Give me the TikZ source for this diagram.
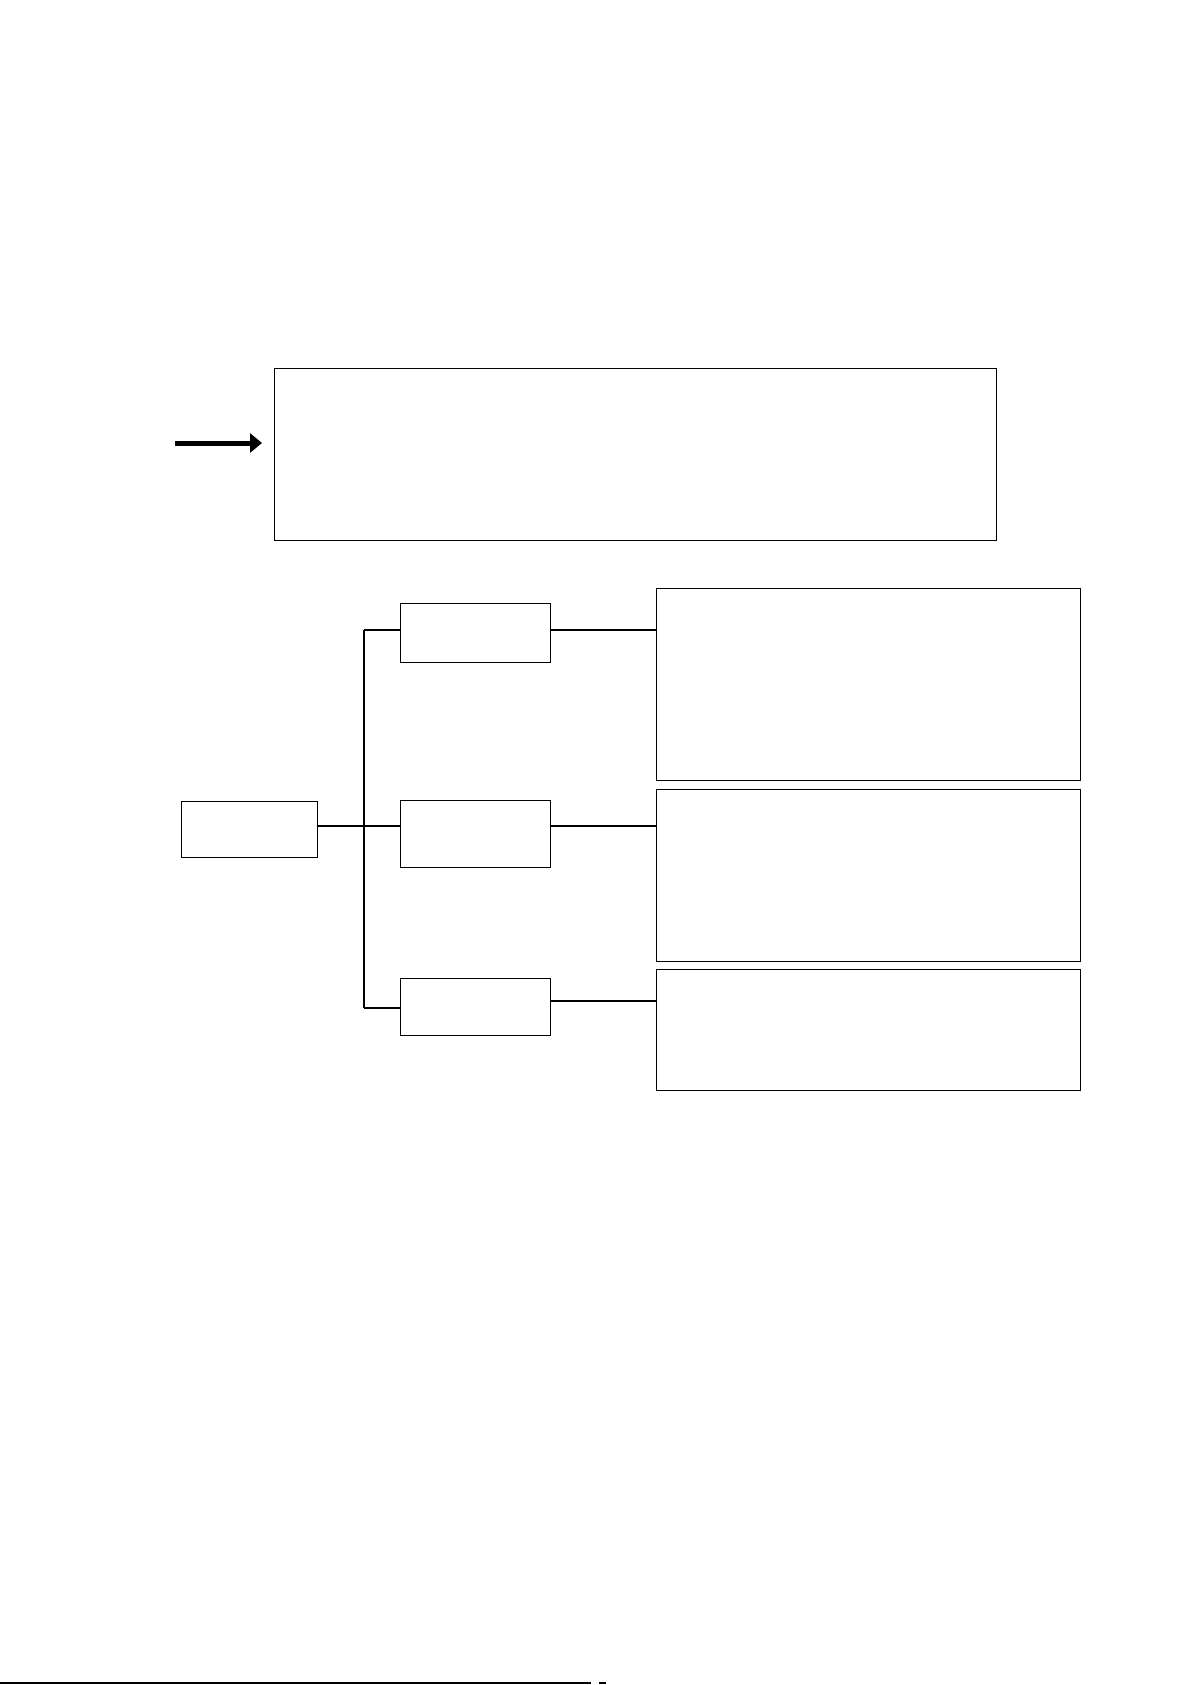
\documentclass[tikz,border=0pt]{standalone}
\usetikzlibrary{arrows.meta}
\begin{document}
\begin{tikzpicture}[x=1pt,y=-1pt,
  box/.style={draw, line width=1.4pt, inner sep=0pt, anchor=north west},
  link/.style={line width=2pt}]
\useasboundingbox (0,0) rectangle (1191,1685);
% top box and arrow
\node[box, minimum width=722pt, minimum height=172pt] (top) at (274,368) {};
\coordinate (as) at (175,443);
\coordinate (ae) at (262,443);
\draw[line width=5pt, -{Triangle[length=12pt,width=19pt]}] (as) -- (ae);
% tree
\node[box, minimum width=136pt, minimum height=56pt] (root) at (181,801) {};
\node[box, minimum width=150pt, minimum height=59pt] (m1) at (400,603) {};
\node[box, minimum width=150pt, minimum height=67pt] (m2) at (400,800) {};
\node[box, minimum width=150pt, minimum height=57pt] (m3) at (400,978) {};
\node[box, minimum width=424pt, minimum height=192pt] (r1) at (656,588) {};
\node[box, minimum width=424pt, minimum height=172pt] (r2) at (656,789) {};
\node[box, minimum width=424pt, minimum height=121pt] (r3) at (656,969) {};
\coordinate (b1) at (364,630);
\coordinate (b2) at (364,826);
\coordinate (b3) at (364,1008);
\coordinate (c3) at (550,1001);
\draw[link] (b1) -- (b3);
\draw[link] (root.east |- b2) -- (m2.west |- b2);
\draw[link] (b1) -- (m1.west |- b1);
\draw[link] (b3) -- (m3.west |- b3);
\draw[link] (m1.east |- b1) -- (r1.west |- b1);
\draw[link] (m2.east |- b2) -- (r2.west |- b2);
\draw[link] (c3) -- (r3.west |- c3);
% bottom rule
\coordinate (l1) at (0,1683);
\coordinate (l2) at (591,1683);
\draw[line width=1.5pt] (l1) -- (l2);
\coordinate (d1) at (599,1683);
\coordinate (d2) at (606,1683);
\draw[line width=1.5pt] (d1) -- (d2);
\end{tikzpicture}
\end{document}
